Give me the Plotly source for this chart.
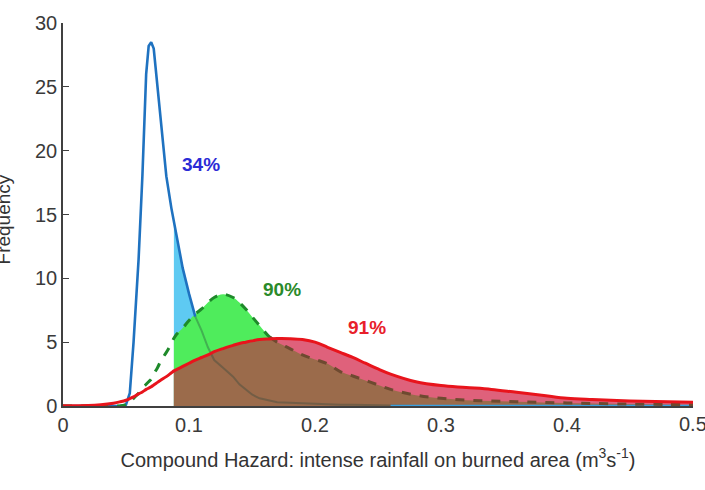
import numpy as np
import plotly.graph_objects as go

# Common grid of rainfall-on-burned-area values (m^3 s^-1)
x = [0, 0.02, 0.03, 0.04, 0.045, 0.05, 0.053, 0.056, 0.06, 0.063, 0.066, 0.068,
     0.07, 0.072, 0.075, 0.078, 0.082, 0.086, 0.088, 0.09, 0.095, 0.1, 0.105,
     0.11, 0.115, 0.12, 0.127, 0.135, 0.14, 0.145, 0.15, 0.156, 0.164, 0.17,
     0.18, 0.19, 0.2, 0.21, 0.22, 0.23, 0.24, 0.25, 0.26, 0.28, 0.3, 0.32,
     0.34, 0.36, 0.38, 0.4, 0.42, 0.45, 0.48, 0.5]

# Frequency distributions for the three periods
freq_blue = [0, 0, 0, 0, 0, 0.1, 1.0, 5.0, 11.5, 18.0, 26.0, 28.2,
             28.5, 28.0, 25.0, 21.5, 18.0, 15.5, 14.5, 13.5, 10.8, 8.8, 7.0,
             5.9, 4.6, 3.6, 3.0, 2.3, 1.7, 1.3, 0.9, 0.6, 0.4, 0.3,
             0.25, 0.2, 0.15, 0.15, 0.1, 0.1, 0.08, 0.05, 0, 0, 0, 0,
             0, 0, 0, 0, 0, 0, 0, 0]
freq_green = [0, 0, 0, 0, 0, 0.1, 0.3, 0.6, 1.0, 1.4, 1.7, 1.9,
              2.1, 2.5, 3.0, 3.6, 4.2, 4.9, 5.3, 5.6, 6.1, 6.7, 7.2,
              7.6, 8.1, 8.5, 8.75, 8.5, 8.1, 7.6, 7.0, 6.3, 5.4, 5.0,
              4.5, 4.0, 3.65, 3.3, 2.7, 2.35, 2.0, 1.65, 1.3, 0.85, 0.6, 0.46,
              0.4, 0.33, 0.28, 0.24, 0.2, 0.15, 0.12, 0.1]
freq_red = [0.02, 0.04, 0.1, 0.22, 0.32, 0.45, 0.58, 0.72, 0.95, 1.1, 1.3, 1.4,
            1.5, 1.65, 1.85, 2.05, 2.3, 2.6, 2.75, 2.85, 3.1, 3.35, 3.6,
            3.8, 4.0, 4.25, 4.5, 4.75, 4.9, 5.0, 5.1, 5.2, 5.25, 5.28,
            5.27, 5.2, 5.0, 4.6, 4.2, 3.8, 3.35, 2.9, 2.5, 1.9, 1.6, 1.45,
            1.3, 1.07, 0.85, 0.6, 0.5, 0.4, 0.33, 0.3]

threshold = 0.088
labels = ["34%", "90%", "91%"]
label_x = [0.1095, 0.174, 0.241]
label_y = [18.6, 8.83, 5.86]
label_colors = ["#2b2bd6", "#2a8a2a", "#e8202a"]
x_ticks = [0, 0.1, 0.2, 0.3, 0.4, 0.5]
x_ticktext = ["0", "0.1", "0.2", "0.3", "0.4", "0.5"]
y_ticks = [0, 5, 10, 15, 20, 25, 30]

xa = np.array(x)
b = np.array(freq_blue)
g = np.array(freq_green)
r = np.array(freq_red)
m = xa >= threshold

FONT = "Liberation Sans, Arial, sans-serif"
TICK_FONT = dict(family=FONT, size=20, color="#3a3a3a")
fig = go.Figure()

# exceedance areas beyond the threshold
fig.add_trace(go.Scatter(x=xa[m], y=b[m], fill="tozeroy", mode="none",
                         fillcolor="#5ecaf2", hoverinfo="skip"))
fig.add_trace(go.Scatter(x=xa[m], y=g[m], fill="tozeroy", mode="none",
                         fillcolor="#4fec5c", line_shape="spline", hoverinfo="skip"))
fig.add_trace(go.Scatter(x=xa[m], y=r[m], fill="tozeroy", mode="none",
                         fillcolor="#df617b", line_shape="spline", hoverinfo="skip"))
fig.add_trace(go.Scatter(x=xa[m], y=np.minimum(g, r)[m], fill="tozeroy", mode="none",
                         fillcolor="#9b6b4b", line_shape="spline", hoverinfo="skip"))

# blue curve: bright where it sits on top, muted under the other areas
head = xa <= 0.105
tail = xa >= 0.105
fig.add_trace(go.Scatter(x=xa[head], y=b[head], mode="lines",
                         line=dict(color="#1f72c0", width=2.6)))
fig.add_trace(go.Scatter(x=xa[tail], y=b[tail], mode="lines",
                         line=dict(color="rgba(40,70,60,0.35)", width=2)))
fig.add_trace(go.Scatter(x=xa[xa >= 0.26], y=b[xa >= 0.26], mode="lines",
                         line=dict(color="#3aa0e0", width=2.6)))

# green dashed curve
above = xa <= 0.17
below = xa >= 0.164
fig.add_trace(go.Scatter(x=xa[above], y=g[above], mode="lines", line_shape="spline",
                         line=dict(color="#1e8a2a", width=3, dash="dash")))
fig.add_trace(go.Scatter(x=xa[below], y=g[below], mode="lines", line_shape="spline",
                         line=dict(color="#6e4a30", width=3, dash="dash")))

# red curve on top
fig.add_trace(go.Scatter(x=x, y=freq_red, mode="lines", line_shape="spline",
                         line=dict(color="#e8141c", width=3)))

for t, lx, ly, c in zip(labels, label_x, label_y, label_colors):
    fig.add_annotation(x=lx, y=ly, text=f"<b>{t}</b>", showarrow=False,
                       yshift=4, font=dict(family=FONT, size=19, color=c))

# last x tick label sits on the page edge
fig.add_annotation(x=x_ticks[-1], xref="x", y=0, yref="paper", yanchor="top",
                   yshift=-5, text=x_ticktext[-1], showarrow=False,
                   font=TICK_FONT)

fig.add_annotation(xref="paper", yref="paper", x=-0.0937, y=0.487,
                   xanchor="center", yanchor="middle",
                   text="Frequency", textangle=-90, showarrow=False,
                   font=dict(family=FONT, size=19, color="#333333"))

fig.update_layout(
    width=705, height=490,
    margin=dict(l=63, r=12, t=12, b=84),
    paper_bgcolor="white", plot_bgcolor="white",
    showlegend=False,
    font=dict(family=FONT, color="#333333"),
    xaxis=dict(range=[0, 0.5], tickvals=x_ticks[:-1], ticktext=x_ticktext[:-1],
               showgrid=False, zeroline=False, showline=True,
               linecolor="#404040", linewidth=1.5, ticks="inside",
               ticklen=5, tickcolor="#404040", layer="below traces",
               tickfont=TICK_FONT,
               title=dict(text="Compound Hazard: intense rainfall on burned area (m<sup>3</sup>s<sup>-1</sup>)",
                          font=dict(family=FONT, size=20, color="#333333"),
                          standoff=18)),
    yaxis=dict(range=[0, 30], tickvals=y_ticks,
               showgrid=False, zeroline=False, showline=True,
               linecolor="#404040", linewidth=1.5, ticks="inside",
               ticklen=6, tickcolor="#404040",
               tickfont=TICK_FONT),
)

fig.write_html("out.html")
